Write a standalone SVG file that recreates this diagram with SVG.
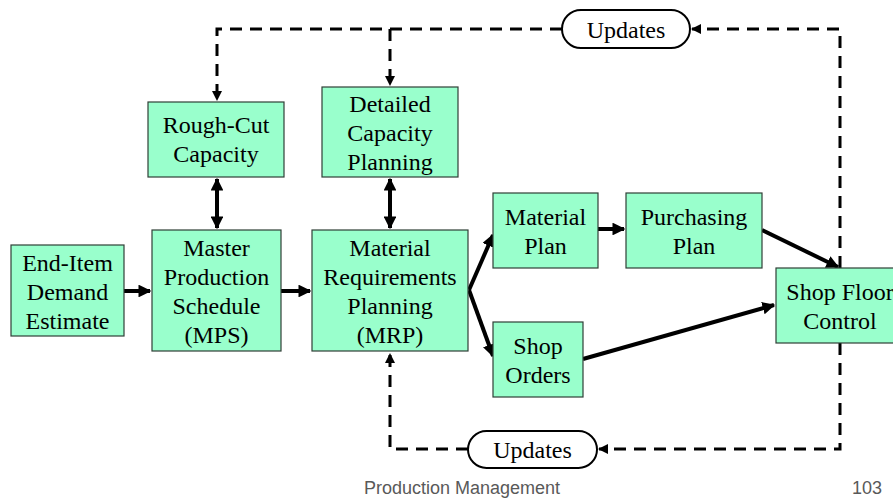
<svg xmlns="http://www.w3.org/2000/svg" width="893" height="500" viewBox="0 0 893 500">
  <defs>
    <marker id="ah" viewBox="0 0 10 10" refX="9" refY="5" markerWidth="3.2" markerHeight="3.2" orient="auto-start-reverse" markerUnits="strokeWidth">
      <path d="M0,0 L10,5 L0,10 z" fill="#000"/>
    </marker>
    <marker id="ahd" viewBox="0 0 10 10" refX="9" refY="5" markerWidth="3.4" markerHeight="3.4" orient="auto" markerUnits="strokeWidth">
      <path d="M0,0 L10,5 L0,10 z" fill="#000"/>
    </marker>
  </defs>
  <style>
    .box { fill: #99ffcc; stroke: #2f3f36; stroke-width: 1.2; }
    .pill { fill: #fff; stroke: #000; stroke-width: 2; }
    .lbl { font-family: 'Liberation Serif', 'Times New Roman', serif; font-size: 24px; fill: #000; text-anchor: middle; }
    .solid { fill: none; stroke: #000; stroke-width: 4; }
    .dash { fill: none; stroke: #000; stroke-width: 3; stroke-dasharray: 12 8; }
    .foot { font-family: 'Liberation Sans', Arial, sans-serif; font-size: 18px; fill: #595959; }
  </style>
  <rect width="893" height="500" fill="#fff"/>

  <!-- connectors -->
  <g id="connectors">
    <!-- feedback loop: shop floor to top updates, then down to capacity planning -->
    <path class="dash" d="M840,268 V29 H692" marker-end="url(#ahd)"/>
    <path class="dash" d="M562,29 H217 V100" marker-end="url(#ahd)"/>
    <path class="dash" d="M390,29 V85" marker-end="url(#ahd)"/>
    <!-- feedback loop: shop floor to bottom updates, then up to MRP -->
    <path class="dash" d="M840,343 V449 H599" marker-end="url(#ahd)"/>
    <path class="dash" d="M468,449 H390 V354" marker-end="url(#ahd)"/>
    <!-- main flow -->
    <path class="solid" d="M124,291 H150" marker-end="url(#ah)"/>
    <path class="solid" d="M281,291 H310" marker-end="url(#ah)"/>
    <path class="solid" d="M217,179 V228" marker-start="url(#ah)" marker-end="url(#ah)"/>
    <path class="solid" d="M390,179 V228" marker-start="url(#ah)" marker-end="url(#ah)"/>
    <path class="solid" d="M469,290 L493,235" marker-end="url(#ah)"/>
    <path class="solid" d="M469,290 L493,356" marker-end="url(#ah)"/>
    <path class="solid" d="M598,229 H624" marker-end="url(#ah)"/>
    <path class="solid" d="M762,230 L838,267" marker-end="url(#ah)"/>
    <path class="solid" d="M583,359 L774,305" marker-end="url(#ah)"/>
  </g>

  <g id="rough-cut">
    <rect class="box" x="148" y="102" width="136" height="75"/>
    <text class="lbl" x="216" y="133">Rough-Cut</text>
    <text class="lbl" x="216" y="162">Capacity</text>
  </g>
  <g id="detailed-capacity">
    <rect class="box" x="322" y="87" width="136" height="90"/>
    <text class="lbl" x="390" y="112">Detailed</text>
    <text class="lbl" x="390" y="141">Capacity</text>
    <text class="lbl" x="390" y="170">Planning</text>
  </g>
  <g id="end-item">
    <rect class="box" x="11" y="245" width="113" height="91"/>
    <text class="lbl" x="67.5" y="271">End-Item</text>
    <text class="lbl" x="67.5" y="300">Demand</text>
    <text class="lbl" x="67.5" y="329">Estimate</text>
  </g>
  <g id="mps">
    <rect class="box" x="152" y="230" width="129" height="121"/>
    <text class="lbl" x="216.5" y="256">Master</text>
    <text class="lbl" x="216.5" y="285">Production</text>
    <text class="lbl" x="216.5" y="314">Schedule</text>
    <text class="lbl" x="216.5" y="343">(MPS)</text>
  </g>
  <g id="mrp">
    <rect class="box" x="312" y="230" width="156" height="121"/>
    <text class="lbl" x="390" y="256">Material</text>
    <text class="lbl" x="390" y="285">Requirements</text>
    <text class="lbl" x="390" y="314">Planning</text>
    <text class="lbl" x="390" y="343">(MRP)</text>
  </g>
  <g id="material-plan">
    <rect class="box" x="493" y="193" width="105" height="75"/>
    <text class="lbl" x="545.5" y="225">Material</text>
    <text class="lbl" x="545.5" y="254">Plan</text>
  </g>
  <g id="purchasing-plan">
    <rect class="box" x="626" y="193" width="136" height="75"/>
    <text class="lbl" x="694" y="225">Purchasing</text>
    <text class="lbl" x="694" y="254">Plan</text>
  </g>
  <g id="shop-orders">
    <rect class="box" x="493" y="322" width="90" height="75"/>
    <text class="lbl" x="538" y="354">Shop</text>
    <text class="lbl" x="538" y="383">Orders</text>
  </g>
  <g id="shop-floor">
    <rect class="box" x="776" y="268" width="128" height="75"/>
    <text class="lbl" x="840" y="300">Shop Floor</text>
    <text class="lbl" x="840" y="329">Control</text>
  </g>
  <g id="updates-top">
    <rect class="pill" x="562" y="10" width="128" height="38" rx="19"/>
    <text class="lbl" x="626" y="38">Updates</text>
  </g>
  <g id="updates-bottom">
    <rect class="pill" x="468" y="431" width="129" height="37" rx="18.5"/>
    <text class="lbl" x="532.5" y="458">Updates</text>
  </g>

  <text class="foot" x="364" y="494">Production Management</text>
  <text class="foot" x="852" y="494">103</text>
</svg>
